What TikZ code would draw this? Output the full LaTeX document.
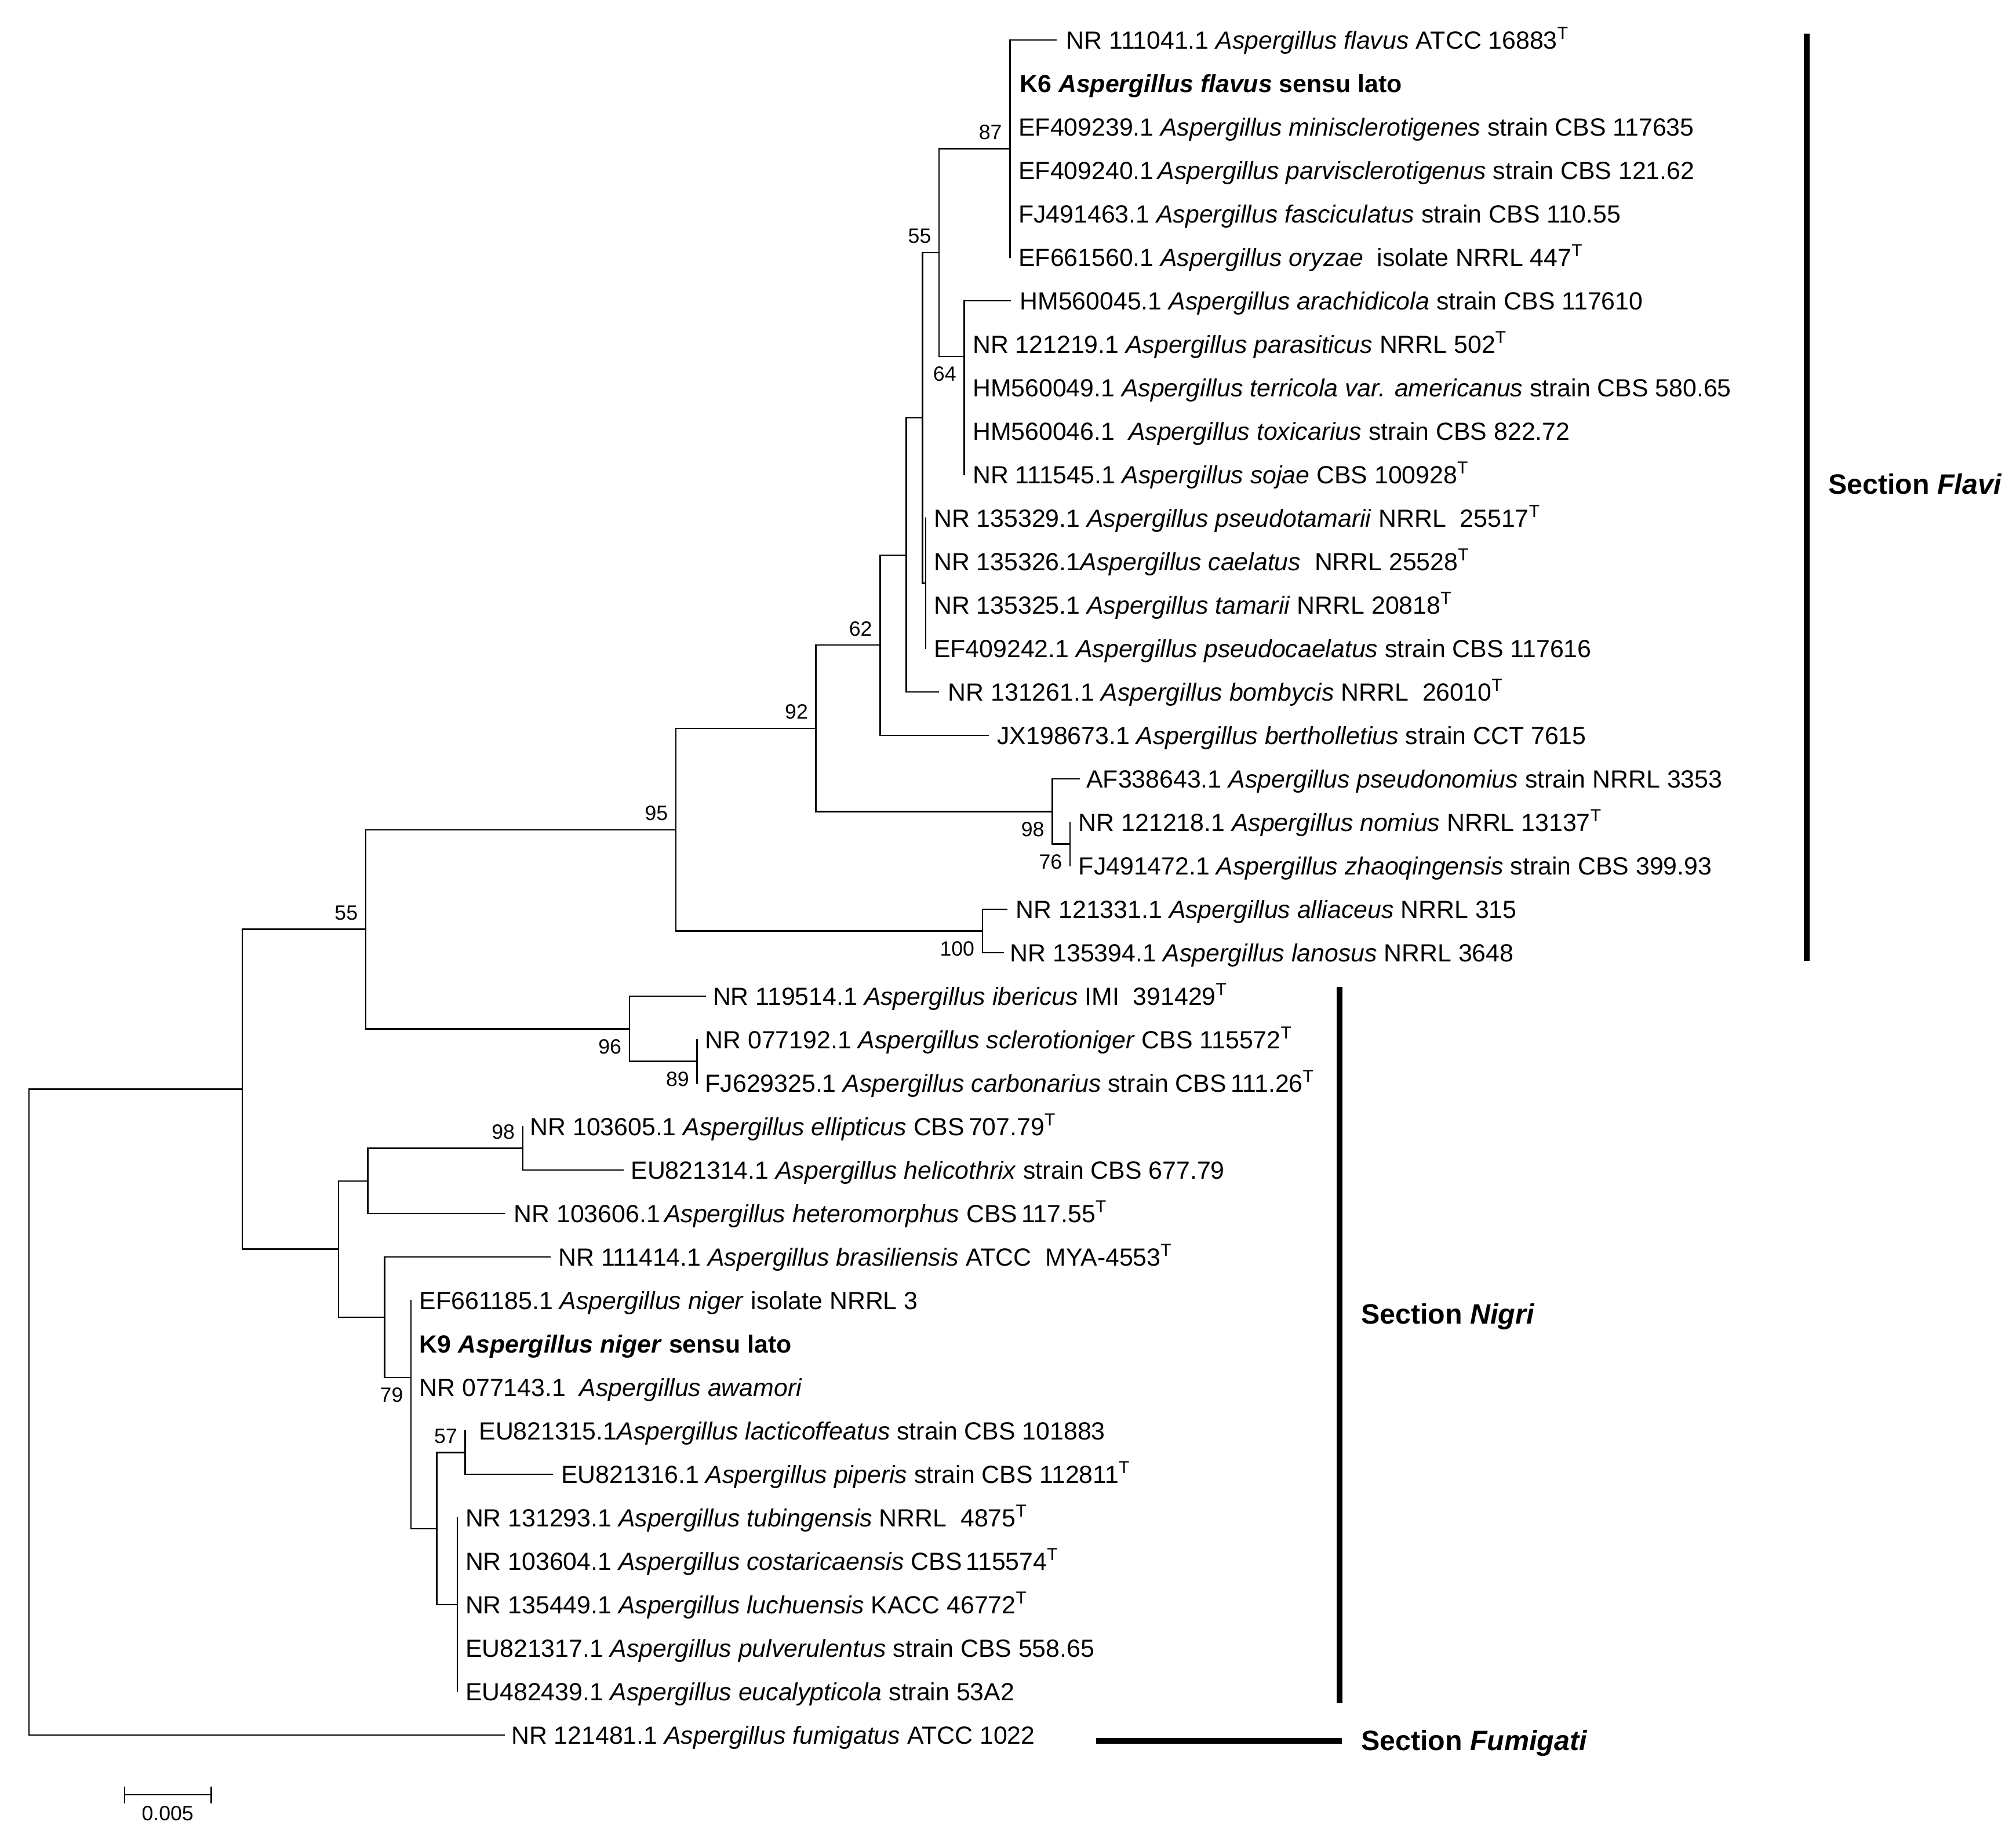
\documentclass[tikz,border=0pt]{standalone}
\usepackage{fontspec}
\setmainfont{Liberation Sans}
\newcommand{\supT}{\textsuperscript{T}}
\newcommand{\Asp}[1]{\textit{Aspergillus #1}}
\begin{document}
\begin{tikzpicture}[x=1pt,y=1pt,
  branch/.style={line width=1.1pt, line cap=rect},
  leaf/.style={anchor=base west, inner sep=0pt, yshift=-6.9pt, font=\fontsize{19.2}{22}\selectfont},
  bsup/.style={anchor=base east, inner sep=0pt, xshift=-6pt, yshift=7.2pt, font=\fontsize{16}{18}\selectfont},
  bsdn/.style={anchor=base east, inner sep=0pt, xshift=-6pt, yshift=-19.2pt, font=\fontsize{16}{18}\selectfont},
  secbar/.style={line width=4.4pt},
  seclab/.style={anchor=base west, inner sep=0pt, font=\fontsize{21.7}{24}\selectfont\bfseries}]
\fill[white] (0,0) rectangle (1560,-1427.2);
\useasboundingbox (0,0) rectangle (1560,-1427.2);

\begin{scope}[y=-33.64pt, yshift=2.64pt]
% internal nodes
\coordinate (root) at (22.4,32.57);
\coordinate (H) at (187.6,25.14);
\coordinate (n55o) at (283,21.46);
\coordinate (n95) at (523,19.17);
\coordinate (n92) at (631.4,16.835);
\coordinate (n62) at (681,14.92);
\coordinate (nB) at (701.3,12.85);
\coordinate (nA) at (713.8,9.695);
\coordinate (n55i) at (726.7,5.89);
\coordinate (n87) at (781.5,3.5);
\coordinate (n64) at (746.1,8.28);
\coordinate (nTam) at (716.3,13.5);
\coordinate (n98f) at (814.2,18.75);
\coordinate (n76) at (828,19.5);
\coordinate (n100) at (760.2,21.5);
\coordinate (n96) at (487,23.75);
\coordinate (n89) at (539.4,24.5);
\coordinate (G) at (262,28.82);
\coordinate (C) at (284.5,27.25);
\coordinate (n98n) at (404.5,26.5);
\coordinate (F) at (297.5,30.385);
\coordinate (n79) at (318.1,31.77);
\coordinate (D) at (337.9,35.25);
\coordinate (n57) at (360,33.5);
\coordinate (E) at (354,37);

% leaf tips
\coordinate (t1) at (817.3,1);
\foreach \i in {2,...,6} {\coordinate (t\i) at (781.5,\i);}
\coordinate (t7) at (781.5,7);
\foreach \i in {8,...,11} {\coordinate (t\i) at (746.1,\i);}
\foreach \i in {12,...,15} {\coordinate (t\i) at (716.3,\i);}
\coordinate (t16) at (726,16);
\coordinate (t17) at (764.8,17);
\coordinate (t18) at (835,18);
\coordinate (t19) at (828,19);
\coordinate (t20) at (828,20);
\coordinate (t21) at (779,21);
\coordinate (t22) at (776.3,22);
\coordinate (t23) at (545.7,23);
\coordinate (t24) at (539.4,24);
\coordinate (t25) at (539.4,25);
\coordinate (t26) at (404.5,26);
\coordinate (t27) at (482.2,27);
\coordinate (t28) at (389.9,28);
\coordinate (t29) at (425.4,29);
\foreach \i in {30,31,32} {\coordinate (t\i) at (318.1,\i);}
\coordinate (t33) at (360,33);
\coordinate (t34) at (427.2,34);
\foreach \i in {35,...,39} {\coordinate (t\i) at (354,\i);}
\coordinate (t40) at (389.9,40);

% branches
\draw[branch] (root) |- (H);
\draw[branch] (root) |- (t40);
\draw[branch] (H) |- (n55o);
\draw[branch] (H) |- (G);
\draw[branch] (n55o) |- (n95);
\draw[branch] (n55o) |- (n96);
\draw[branch] (n95) |- (n92);
\draw[branch] (n95) |- (n100);
\draw[branch] (n92) |- (n62);
\draw[branch] (n92) |- (n98f);
\draw[branch] (n62) |- (nB);
\draw[branch] (n62) |- (t17);
\draw[branch] (nB) |- (nA);
\draw[branch] (nB) |- (t16);
\draw[branch] (nA) |- (n55i);
\draw[branch] (nA) |- (nTam);
\draw[branch] (n55i) |- (n87);
\draw[branch] (n55i) |- (n64);
\foreach \i in {1,...,6} {\draw[branch] (n87) |- (t\i);}
\foreach \i in {7,...,11} {\draw[branch] (n64) |- (t\i);}
\foreach \i in {12,...,15} {\draw[branch] (nTam) |- (t\i);}
\draw[branch] (n98f) |- (t18);
\draw[branch] (n98f) |- (n76);
\draw[branch] (n76) |- (t19);
\draw[branch] (n76) |- (t20);
\draw[branch] (n100) |- (t21);
\draw[branch] (n100) |- (t22);
\draw[branch] (n96) |- (t23);
\draw[branch] (n96) |- (n89);
\draw[branch] (n89) |- (t24);
\draw[branch] (n89) |- (t25);
\draw[branch] (G) |- (C);
\draw[branch] (G) |- (F);
\draw[branch] (C) |- (n98n);
\draw[branch] (C) |- (t28);
\draw[branch] (n98n) |- (t26);
\draw[branch] (n98n) |- (t27);
\draw[branch] (F) |- (t29);
\draw[branch] (F) |- (n79);
\foreach \i in {30,31,32} {\draw[branch] (n79) |- (t\i);}
\draw[branch] (n79) |- (D);
\draw[branch] (D) |- (n57);
\draw[branch] (D) |- (E);
\draw[branch] (n57) |- (t33);
\draw[branch] (n57) |- (t34);
\foreach \i in {35,...,39} {\draw[branch] (E) |- (t\i);}

% bootstrap values
\node[bsup] (b87) at (n87) {87};
\node[bsup] (b55i) at (n55i) {55};
\node[bsdn] (b64) at (n64) {64};
\node[bsup] (b62) at (n62) {62};
\node[bsup] (b92) at (n92) {92};
\node[bsdn] (b98f) at (n98f) {98};
\node[bsdn] (b76) at (n76) {76};
\node[bsup] (b95) at (n95) {95};
\node[bsdn] (b100) at (n100) {100};
\node[bsup] (b55o) at (n55o) {55};
\node[bsdn] (b96) at (n96) {96};
\node[bsdn] (b89) at (n89) {89};
\node[bsup] (b98n) at (n98n) {98};
\node[bsdn] (b79) at (n79) {79};
\node[bsup] (b57) at (n57) {57};

% leaf labels
\node[leaf] (L1) at (825,1) {NR 111041.1 \Asp{flavus} ATCC 16883\supT};
\node[leaf] (L2) at (789,2) {\bfseries K6 \Asp{flavus} sensu lato};
\node[leaf] (L3) at (788,3) {EF409239.1 \Asp{minisclerotigenes} strain CBS 117635};
\node[leaf] (L4) at (788,4) {EF409240.1\,\Asp{parvisclerotigenus} strain CBS 121.62};
\node[leaf] (L5) at (788,5) {FJ491463.1 \Asp{fasciculatus} strain CBS 110.55};
\node[leaf] (L6) at (788,6) {EF661560.1 \Asp{oryzae}\ \ isolate NRRL 447\supT};
\node[leaf] (L7) at (789,7) {HM560045.1 \Asp{arachidicola} strain CBS 117610};
\node[leaf] (L8) at (752.5,8) {NR 121219.1 \Asp{parasiticus} NRRL 502\supT};
\node[leaf] (L9) at (752.5,9) {HM560049.1 \Asp{terricola var. americanus} strain CBS 580.65};
\node[leaf] (L10) at (752.5,10) {HM560046.1\ \ \Asp{toxicarius} strain CBS 822.72};
\node[leaf] (L11) at (752.5,11) {NR 111545.1 \Asp{sojae} CBS 100928\supT};
\node[leaf] (L12) at (722.5,12) {NR 135329.1 \Asp{pseudotamarii} NRRL\ \ 25517\supT};
\node[leaf] (L13) at (722.5,13) {NR 135326.1\Asp{caelatus}\ \ NRRL 25528\supT};
\node[leaf] (L14) at (722.5,14) {NR 135325.1 \Asp{tamarii} NRRL 20818\supT};
\node[leaf] (L15) at (722.5,15) {EF409242.1 \Asp{pseudocaelatus} strain CBS 117616};
\node[leaf] (L16) at (733.5,16) {NR 131261.1 \Asp{bombycis} NRRL\ \ 26010\supT};
\node[leaf] (L17) at (771.5,17) {JX198673.1 \Asp{bertholletius} strain CCT 7615};
\node[leaf] (L18) at (840.5,18) {AF338643.1 \Asp{pseudonomius} strain NRRL 3353};
\node[leaf] (L19) at (834.5,19) {NR 121218.1 \Asp{nomius} NRRL 13137\supT};
\node[leaf] (L20) at (834.5,20) {FJ491472.1 \Asp{zhaoqingensis} strain CBS 399.93};
\node[leaf] (L21) at (786,21) {NR 121331.1 \Asp{alliaceus} NRRL 315};
\node[leaf] (L22) at (781.5,22) {NR 135394.1 \Asp{lanosus} NRRL 3648};
\node[leaf] (L23) at (551.5,23) {NR 119514.1 \Asp{ibericus} IMI\ \ 391429\supT};
\node[leaf] (L24) at (545.5,24) {NR 077192.1 \Asp{sclerotioniger} CBS 115572\supT};
\node[leaf] (L25) at (545.5,25) {FJ629325.1 \Asp{carbonarius} strain CBS\,111.26\supT};
\node[leaf] (L26) at (410,26) {NR 103605.1 \Asp{ellipticus} CBS\,707.79\supT};
\node[leaf] (L27) at (488,27) {EU821314.1 \Asp{helicothrix} strain CBS 677.79};
\node[leaf] (L28) at (397.5,28) {NR 103606.1\,\Asp{heteromorphus} CBS\,117.55\supT};
\node[leaf] (L29) at (432,29) {NR 111414.1 \Asp{brasiliensis} ATCC\ \ MYA-4553\supT};
\node[leaf] (L30) at (324.5,30) {EF661185.1 \Asp{niger} isolate NRRL 3};
\node[leaf] (L31) at (324.5,31) {\bfseries K9 \Asp{niger} sensu lato};
\node[leaf] (L32) at (324.5,32) {NR 077143.1\ \ \Asp{awamori}};
\node[leaf] (L33) at (370.5,33) {EU821315.1\Asp{lacticoffeatus} strain CBS 101883};
\node[leaf] (L34) at (434,34) {EU821316.1 \Asp{piperis} strain CBS 112811\supT};
\node[leaf] (L35) at (360,35) {NR 131293.1 \Asp{tubingensis} NRRL\ \ 4875\supT};
\node[leaf] (L36) at (360,36) {NR 103604.1 \Asp{costaricaensis} CBS\,115574\supT};
\node[leaf] (L37) at (360,37) {NR 135449.1 \Asp{luchuensis} KACC 46772\supT};
\node[leaf] (L38) at (360,38) {EU821317.1 \Asp{pulverulentus} strain CBS 558.65};
\node[leaf] (L39) at (360,39) {EU482439.1 \Asp{eucalypticola} strain 53A2};
\node[leaf] (L40) at (395.5,40) {NR 121481.1 \Asp{fumigatus} ATCC 1022};
\end{scope}

% section bars and labels
\coordinate (fl1) at (1398,-26.2);
\coordinate (fl2) at (1398,-743.5);
\draw[secbar] (fl1) -- (fl2);
\node[seclab] (secFlavi) at (1414.5,-382.5) {Section \textit{Flavi}};
\coordinate (ng1) at (1036.5,-764);
\coordinate (ng2) at (1036.5,-1318);
\draw[secbar] (ng1) -- (ng2);
\node[seclab] (secNigri) at (1053,-1024.8) {Section \textit{Nigri}};
\coordinate (fm1) at (848,-1347.5);
\coordinate (fm2) at (1038.5,-1347.5);
\draw[secbar] (fm1) -- (fm2);
\node[seclab] (secFum) at (1053,-1354.8) {Section \textit{Fumigati}};

% scale bar
\coordinate (sb1) at (96.4,-1389.2);
\coordinate (sb2) at (163.4,-1389.2);
\draw[branch] (sb1) -- (sb2);
\draw[branch] ([yshift=6pt]sb1) -- ([yshift=-6pt]sb1);
\draw[branch] ([yshift=6pt]sb2) -- ([yshift=-6pt]sb2);
\node[anchor=base, inner sep=0pt, font=\fontsize{16}{18}\selectfont] (sblab) at (129.7,-1409.2) {0.005};
\end{tikzpicture}
\end{document}
